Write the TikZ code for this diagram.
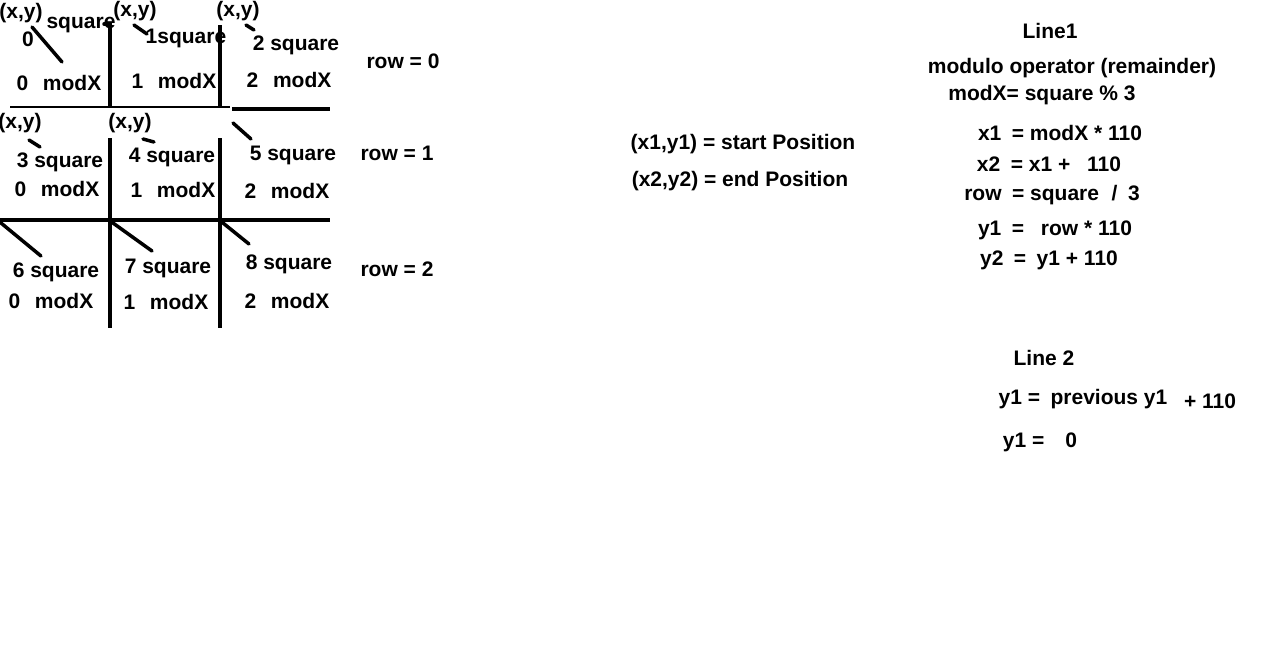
\documentclass[tikz,border=0pt]{standalone}
\usepackage{fontspec}
\setmainfont{Liberation Sans}
\begin{document}
\begin{tikzpicture}[x=1pt,y=-1pt,
  txt/.style={inner sep=0pt,anchor=center,font=\fontsize{21}{24}\selectfont\bfseries},
  bar/.style={line width=4pt,black},
  thinbar/.style={line width=2pt,black},
  tick/.style={line width=3.5pt,black,line cap=round}]
\useasboundingbox (0,0) rectangle (1278,653);
% ---- row 0 texts
\node[txt] (xy0) at (21,13) {(x,y)};
\node[txt] (xy1) at (135,11) {(x,y)};
\node[txt] (xy2) at (238,11) {(x,y)};
\node[txt] (n0) at (28,39) {0};
\node[txt] (s0) at (81,25) {square};
\node[txt] (s1) at (186,38) {1square};
\node[txt] (s2) at (296,45) {2 square};
\node[txt] (m0) at (59,83) {0\hspace{0.7em}modX};
\node[txt] (m1) at (174,81) {1\hspace{0.7em}modX};
\node[txt] (m2) at (289,80) {2\hspace{0.7em}modX};
\node[txt] (r0) at (403,61) {row = 0};
% ---- row 1 texts
\node[txt] (xy3) at (20,123) {(x,y)};
\node[txt] (xy4) at (130,123) {(x,y)};
\node[txt] (s3) at (60,162) {3 square};
\node[txt] (s4) at (172,157) {4 square};
\node[txt] (s5) at (293,155) {5 square};
\node[txt] (m3) at (57,189) {0\hspace{0.7em}modX};
\node[txt] (m4) at (173,190) {1\hspace{0.7em}modX};
\node[txt] (m5) at (287,191) {2\hspace{0.7em}modX};
\node[txt] (r1) at (397,153) {row = 1};
% ---- row 2 texts
\node[txt] (s6) at (56,272) {6 square};
\node[txt] (s7) at (168,268) {7 square};
\node[txt] (s8) at (289,264) {8 square};
\node[txt] (m6) at (51,301) {0\hspace{0.7em}modX};
\node[txt] (m7) at (166,302) {1\hspace{0.7em}modX};
\node[txt] (m8) at (287,301) {2\hspace{0.7em}modX};
\node[txt] (r2) at (397,269) {row = 2};
% ---- grid lines
\draw[bar] (110,23) -- (110,107);
\draw[bar] (220,25) -- (220,107);
\draw[thinbar] (10,107) -- (230,107);
\draw[bar] (232,109) -- (330,109);
\draw[bar] (110,138) -- (110,218);
\draw[bar] (220,138) -- (220,218);
\draw[bar] (0,220) -- (330,220);
\draw[bar] (110,220) -- (110,328);
\draw[bar] (220,220) -- (220,328);
% ---- diagonal marks
\draw[tick] (32,27) -- (62,62);
\draw[tick] (104,24) -- (110,24);
\draw[tick] (134,25) -- (147,34);
\draw[tick] (246,25) -- (254,30);
\draw[tick] (29,140) -- (40,147);
\draw[tick] (143,139) -- (154,142);
\draw[tick] (233,123) -- (251,139);
\draw[tick] (1,223) -- (41,256);
\draw[tick] (113,223) -- (152,251);
\draw[tick] (223,223) -- (249,244);
% ---- middle texts
\node[txt] (p1) at (743,144) {(x1,y1) = start Position};
\node[txt] (p2) at (740,181) {(x2,y2) = end Position};
% ---- right texts
\node[txt] (l1) at (1050,31) {Line1};
\node[txt] (mo) at (1072,68) {modulo operator (remainder)};
\node[txt] (e1) at (1042,95) {modX= square \% 3};
\node[txt] (e2) at (1060,133) {x1\hspace{0.5em}= modX * 110};
\node[txt] (e3) at (1049,164) {x2\hspace{0.5em}= x1 +\hspace{0.8em}110};
\node[txt] (e4) at (1052,195) {row\hspace{0.5em}= square\hspace{0.6em}/\hspace{0.5em}3};
\node[txt] (e5) at (1055,230) {y1\hspace{0.5em}=\hspace{0.8em}row * 110};
\node[txt] (e6) at (1049,260) {y2\hspace{0.5em}=\hspace{0.5em}y1 + 110};
\node[txt] (l2) at (1044,358) {Line 2};
\node[txt] (e7) at (1083,399) {y1 =\hspace{0.5em}previous y1};
\node[txt] (e8) at (1210,401) {+ 110};
\node[txt] (e9) at (1040,442) {y1 =\hspace{1em}0};
\end{tikzpicture}
\end{document}
